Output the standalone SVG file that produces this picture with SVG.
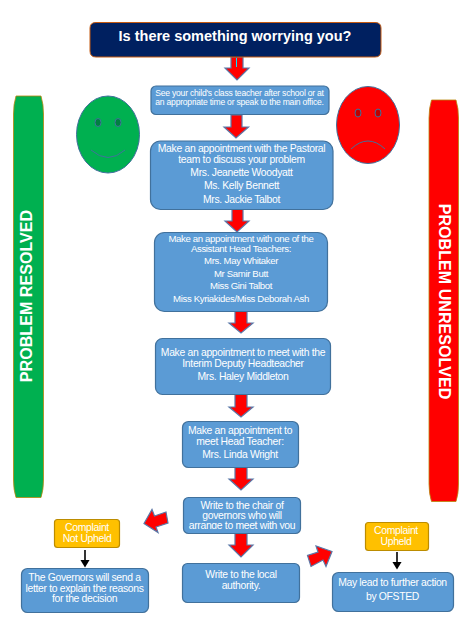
<svg xmlns="http://www.w3.org/2000/svg" width="470" height="631" viewBox="0 0 470 631">
<style>
text{font-family:"Liberation Sans",Arial,sans-serif;fill:#fff;text-anchor:middle}
.b{fill:#5b9bd5;stroke:#41719c;stroke-width:1.2}
.y{fill:#ffc000;stroke:#bc8c00;stroke-width:1.2}
.a{fill:#ff0000;stroke:#5a78a8;stroke-width:1.2}
.f{stroke:#41719c;stroke-width:1}
.l{fill:none;stroke:#41719c;stroke-width:1}
.t9{font-size:9.6px;letter-spacing:-.35px}.t105{font-size:10.4px;letter-spacing:-.33px}.t85{font-size:8.6px;letter-spacing:-.23px}
.side{font-size:16.100px;font-weight:bold}
</style>
<defs>
<clipPath id="clip7"><rect x="183" y="497" width="118" height="32"/></clipPath>
<marker id="m" markerWidth="6" markerHeight="6" refX="4" refY="3" orient="auto"><path d="M0 0L5 3L0 6z" fill="#000"/></marker>
</defs>
<g id="connectors">
<path class="a" d="M231 57H243V68H249L237 80L225 68H231z"/>
<path d="M236.500 58V67" stroke="#00e5ff" stroke-width="1"/>
<path class="a" d="M231 115H242V127H248.500L236 138L224 127H231z"/>
<path class="a" d="M232 209H243V221H249L237 232L225 221H232z"/>
<path class="a" d="M235 311H247V323H253L241 333L229 323H235z"/>
<path class="a" d="M235 394H247V407H253L241 417L229 407H235z"/>
<path class="a" d="M235 467H247V479H253L241 490L229 479H235z"/>
<path class="a" d="M235 533H247V545H253L241 557L229 545H235z"/>
<path class="a" d="M144 523.500L152 509.500L154.500 516L166 512L168 523L156 527L158 532.500z"/>
<path class="a" d="M332 551.500L316 546L318 552L307.500 555.500L311 566.500L323 560L326 566.500z"/>
<path d="M85 550V566" stroke="#000" stroke-width="1.600" marker-end="url(#m)"/>
<path d="M397 552V568" stroke="#000" stroke-width="1.600" marker-end="url(#m)"/>
</g>
<g id="title"><path d="M96 22.500H375Q381 22.500 381 28V51Q381 57 375 57H96Q90 57 90 51V28Q90 22.500 96 22.500z" fill="#002060" stroke="#c55a11" stroke-width="1"/>
<text x="235" y="41" font-size="14.500" font-weight="bold">Is there something worrying you?</text></g>
<g id="resolved"><path d="M16 96H41Q43.500 104 43.500 114V480Q43.500 490 41 497.500H16Q13.500 490 13.500 480V114Q13.500 104 16 96z" fill="#00b050" stroke="#b8860b" stroke-width="0.800"/>
<text class="side" transform="translate(32 296) rotate(-90)">PROBLEM RESOLVED</text></g>
<g id="unresolved"><path d="M431.500 100H456Q458.500 108 458.500 118V484Q458.500 494 456 501.500H431.500Q429 494 429 484V118Q429 108 431.500 100z" fill="#ff0000" stroke="#b8860b" stroke-width="0.800"/>
<text class="side" transform="translate(439 301.500) rotate(90)">PROBLEM UNRESOLVED</text></g>
<g id="happy-face"><ellipse class="f" cx="108" cy="134.500" rx="31.500" ry="38.500" fill="#00b050"/>
<ellipse class="f" cx="98" cy="122.500" rx="3" ry="4" fill="#008040"/><ellipse class="f" cx="118" cy="122.500" rx="3" ry="4" fill="#008040"/>
<path class="l" d="M91 150Q108 165 125 150"/></g>
<g id="sad-face"><ellipse class="f" cx="368" cy="125" rx="31.500" ry="38.500" fill="#ff0000"/>
<ellipse class="f" cx="358" cy="113" rx="3" ry="4" fill="#c00000"/><ellipse class="f" cx="378" cy="113" rx="3" ry="4" fill="#c00000"/>
<path class="l" d="M351 149Q368 133 385 149"/></g>
<g id="class-teacher"><rect class="b" x="151" y="86" width="178" height="28.500" rx="5"/>
<text class="t85" x="239.500" y="96">See your child's class teacher after school or at</text>
<text class="t85" x="239.500" y="104.500">an appropriate time or speak to the main office.</text></g>
<g id="pastoral"><rect class="b" x="150.500" y="141" width="182.500" height="68.500" rx="10"/>
<g class="t105"><text x="241.500" y="152">Make an appointment with the Pastoral</text>
<text x="241.500" y="162.500">team to discuss your problem</text>
<text x="241.500" y="176">Mrs. Jeanette Woodyatt</text>
<text x="241.500" y="189">Ms. Kelly Bennett</text>
<text x="241.500" y="203">Mrs. Jackie Talbot</text></g></g>
<g id="assistant-heads"><rect class="b" x="154.500" y="232.500" width="173" height="79" rx="10"/>
<g class="t9"><text x="241" y="242">Make an appointment with one of the</text>
<text x="241" y="251.500">Assistant Head Teachers:</text>
<text x="241" y="264">Mrs. May Whitaker</text>
<text x="241" y="277">Mr Samir Butt</text>
<text x="241" y="289">Miss Gini Talbot</text>
<text x="241" y="302">Miss Kyriakides/Miss Deborah Ash</text></g></g>
<g id="deputy"><rect class="b" x="155.500" y="338.500" width="175" height="56" rx="7"/>
<g class="t105"><text x="243" y="356">Make an appointment to meet with the</text>
<text x="243" y="366.500">Interim Deputy Headteacher</text>
<text x="243" y="380">Mrs. Haley Middleton</text></g></g>
<g id="head"><rect class="b" x="182.500" y="421.500" width="116" height="46" rx="6"/>
<g class="t105"><text x="240" y="434">Make an appointment to</text>
<text x="240" y="444.500">meet Head Teacher:</text>
<text x="240" y="458">Mrs. Linda Wright</text></g></g>
<g id="governors"><rect class="b" x="183.500" y="497.500" width="117" height="36" rx="5"/>
<g class="t105" clip-path="url(#clip7)"><text x="242" y="509">Write to the chair of</text>
<text x="242" y="519">governors who will</text>
<text x="242" y="529">arrange to meet with you</text></g></g>
<g id="local-authority"><rect class="b" x="182.500" y="563.500" width="117" height="39" rx="5"/>
<g class="t105"><text x="241" y="578">Write to the local</text>
<text x="241" y="589">authority.</text></g></g>
<g id="not-upheld"><rect class="y" x="54.500" y="519.500" width="65" height="28" rx="3"/>
<g class="t105"><text x="87" y="531">Complaint</text><text x="87" y="541.500">Not Upheld</text></g></g>
<g id="letter"><rect class="b" x="21.500" y="568.500" width="127" height="44" rx="6"/>
<g class="t105"><text x="84.500" y="581">The Governors will send a</text>
<text x="84.500" y="591.500">letter to explain the reasons</text>
<text x="84.500" y="601.500">for the decision</text></g></g>
<g id="upheld"><rect class="y" x="365.500" y="522.500" width="63" height="28" rx="3"/>
<g class="t105"><text x="396" y="534">Complaint</text><text x="396" y="544.500">Upheld</text></g></g>
<g id="ofsted"><rect class="b" x="332.500" y="572.500" width="121" height="39" rx="6"/>
<g class="t105"><text x="392.500" y="586">May lead to further action</text>
<text x="392.500" y="600">by OFSTED</text></g></g>
</svg>
